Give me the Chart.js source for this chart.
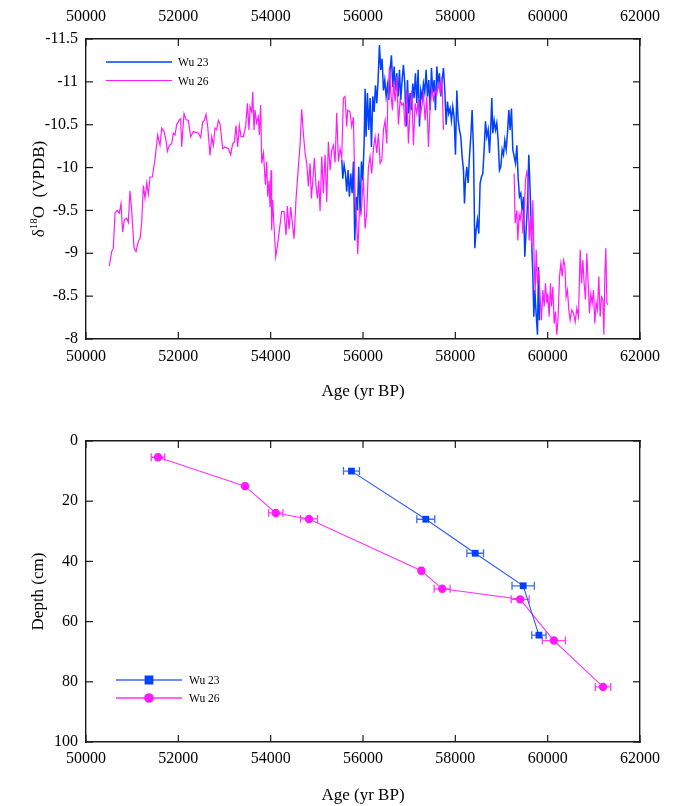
<!DOCTYPE html>
<html>
<head>
<meta charset="utf-8">
<script src="https://cdn.jsdelivr.net/npm/chart.js@4.4.0/dist/chart.umd.min.js"></script>
<style>
  html, body { margin: 0; padding: 0; background: #fff; }
  #wrap { width: 677px; height: 806px; }
  canvas { display: block; }
</style>
</head>
<body>
<div id="wrap">
  <canvas id="chart-isotope" width="677" height="415"></canvas>
  <canvas id="chart-depth" width="677" height="391"></canvas>
</div>
<script>
/* ---- tick labels ---- */
const ageTicks = [50000, 52000, 54000, 56000, 58000, 60000, 62000];
const d18OTicks = [-11.5, -11, -10.5, -10, -9.5, -9, -8.5, -8];
const depthTicks = [0, 20, 40, 60, 80, 100];

/* ---- Wu 23 isotope record (age yr BP, d18O) ---- */
const w23Age = [
  55540, 55562, 55591, 55620, 55648, 55677, 55706, 55735, 55764, 55793, 55822, 55851, 55880, 55908, 55937,
  55966, 55995, 56024, 56046, 56067, 56096, 56125, 56154, 56183, 56212, 56241, 56270, 56298, 56327, 56356,
  56385, 56414, 56443, 56472, 56501, 56530, 56558, 56587, 56616, 56645, 56674, 56703, 56732, 56761, 56790,
  56818, 56847, 56876, 56905, 56934, 56963, 56992, 57020, 57050, 57078, 57107, 57136, 57165, 57194, 57223,
  57252, 57281, 57309, 57338, 57367, 57396, 57425, 57454, 57483, 57512, 57541, 57570, 57598, 57627, 57656,
  57685, 57714, 57743, 57772, 57801, 57830, 57858, 57887, 57916, 57945, 57974, 58003, 58032, 58061, 58089,
  58118, 58147, 58176, 58198, 58220, 58248, 58277, 58306, 58335, 58364, 58393, 58422, 58450, 58479, 58508,
  58537, 58566, 58595, 58624, 58653, 58682, 58711, 58740, 58768, 58790, 58812, 58841, 58870, 58898, 58927,
  58956, 58985, 59014, 59043, 59072, 59101, 59129, 59158, 59187, 59216, 59245, 59274, 59303, 59332, 59360,
  59389, 59418, 59447, 59476, 59505, 59534, 59563, 59591, 59620, 59649, 59678, 59700, 59721, 59750, 59779,
  59801, 59822
];
const w23D18O = [
  -10.09, -9.87, -10.03, -9.93, -9.72, -9.97, -9.66, -9.93, -9.70, -10.07, -9.15, -9.66, -9.50, -10.01, -9.47,
  -10.07, -9.85, -10.28, -10.92, -10.36, -10.87, -10.44, -10.81, -10.24, -10.83, -10.65, -10.96, -10.75, -11.02, -11.43,
  -11.14, -11.27, -10.90, -11.02, -10.83, -10.96, -10.79, -11.14, -11.31, -10.94, -11.18, -10.90, -11.10, -10.83, -11.14,
  -10.79, -11.02, -11.20, -10.98, -10.48, -11.02, -10.63, -10.87, -10.67, -10.98, -10.81, -11.10, -10.75, -11.14, -10.48,
  -10.90, -10.81, -10.98, -10.88, -11.14, -10.83, -11.02, -10.67, -11.16, -10.87, -11.02, -10.67, -11.18, -10.98, -11.10,
  -10.83, -11.02, -11.16, -10.90, -10.50, -10.77, -10.63, -10.69, -10.55, -10.71, -10.59, -10.15, -10.90, -10.55, -10.44,
  -10.36, -10.13, -9.97, -9.58, -9.85, -10.01, -9.82, -10.13, -10.36, -10.67, -10.21, -9.06, -9.27, -9.39, -9.23,
  -9.82, -9.89, -9.93, -10.21, -10.54, -10.36, -10.44, -10.17, -10.48, -10.81, -10.40, -10.55, -10.44, -10.52, -10.32,
  -9.97, -10.01, -10.21, -10.15, -10.32, -10.21, -10.40, -10.67, -10.44, -10.69, -10.21, -10.13, -10.05, -10.26, -9.89,
  -9.66, -9.70, -9.50, -9.66, -8.96, -9.27, -9.58, -10.15, -9.74, -9.19, -8.77, -8.26, -8.57, -8.30, -8.05,
  -8.84, -8.22
];

/* ---- Wu 26 isotope record (null = hiatus) ---- */
const w26Age = [
  50505, 50556, 50592, 50628, 50679, 50722, 50758, 50794, 50830, 50881, 50917, 50953, 50989, 51040, 51083,
  51134, 51170, 51206, 51242, 51278, 51314, 51350, 51387, 51437, 51495, 51553, 51603, 51639, 51690, 51733,
  51762, 51805, 51856, 51892, 51928, 51964, 52015, 52051, 52073, 52123, 52166, 52217, 52268, 52325, 52383,
  52434, 52484, 52528, 52564, 52600, 52636, 52687, 52723, 52759, 52795, 52831, 52867, 52903, 52961, 53011,
  53084, 53134, 53177, 53214, 53250, 53286, 53322, 53358, 53409, 53459, 53495, 53531, 53553, 53589, 53611,
  53640, 53661, 53697, 53733, 53755, 53784, 53806, 53842, 53863, 53885, 53914, 53936, 53965, 53986, 54008,
  54022, 54044, 54073, 54109, 54145, 54189, 54239, 54290, 54333, 54362, 54398, 54434, 54470, 54506, 54550,
  54600, 54636, 54672, 54708, 54745, 54781, 54817, 54853, 54882, 54911, 54947, 54983, 55012, 55041, 55070,
  55106, 55142, 55178, 55214, 55250, 55287, 55323, 55359, 55395, 55431, 55467, 55503, 55539, 55575, 55611,
  55647, 55669, 55719, 55755, 55792, 55828, 55864, 55886, 55922, 55958, 56009, 56045, 56081, 56117, 56153,
  56189, 56226, 56262, 56298, 56335, 56371, 56407, 56443, 56479, 56515, 56537, 56573, 56602, 56638, 56660,
  56696, 56732, 56768, 56804, 56840, 56876, 56912, 56948, 56984, 57020, 57057, 57093, 57129, 57165, 57201,
  57237, 57273, 57309, 57346, 57382, 57418, 57454, 57490, 57526, 57562, 57598, 57635, 57671, 57707, 57743,
  58500,
  59274, 59295, 59332, 59353, 59382, 59404, 59440, 59462, 59491, 59519, 59548, 59570, 59599, 59628, 59657,
  59678, 59707, 59729, 59751, 59779, 59808, 59837, 59866, 59895, 59924, 59953, 59982, 60003, 60032, 60061,
  60083, 60112, 60141, 60169, 60198, 60227, 60256, 60285, 60314, 60343, 60372, 60400, 60429, 60458, 60487,
  60523, 60560, 60596, 60632, 60668, 60704, 60733, 60762, 60790, 60819, 60848, 60877, 60906, 60935, 60964,
  60993, 61021, 61050, 61079, 61108, 61137, 61166, 61195, 61217, 61238, 61260, 61282, 61303
];
const w26D18O = [
  -8.85, -9.02, -9.06, -9.47, -9.50, -9.47, -9.58, -9.25, -9.39, -9.41, -9.36, -9.73, -9.50, -9.06, -9.02,
  -9.14, -9.17, -9.35, -9.79, -9.64, -9.82, -9.69, -9.89, -9.89, -10.10, -10.38, -10.26, -10.46, -10.42, -10.32,
  -10.19, -10.26, -10.28, -10.40, -10.38, -10.50, -10.55, -10.57, -10.24, -10.63, -10.56, -10.55, -10.36, -10.42, -10.41,
  -10.40, -10.35, -10.53, -10.55, -10.62, -10.48, -10.14, -10.36, -10.26, -10.46, -10.44, -10.55, -10.51, -10.22, -10.24,
  -10.22, -10.15, -10.28, -10.30, -10.49, -10.24, -10.49, -10.36, -10.36, -10.48, -10.75, -10.44, -10.71, -10.65, -10.88,
  -10.44, -10.67, -10.52, -10.59, -10.38, -10.73, -10.05, -10.17, -10.01, -9.80, -10.07, -9.66, -9.85, -9.54, -9.97,
  -9.27, -9.62, -9.31, -8.96, -9.08, -9.27, -9.49, -9.49, -9.21, -9.55, -9.28, -9.54, -9.35, -9.17, -9.64,
  -10.01, -10.26, -10.68, -10.40, -10.17, -10.05, -9.78, -10.05, -9.64, -9.84, -10.11, -9.78, -9.64, -9.85, -9.49,
  -10.13, -9.70, -10.15, -9.60, -10.30, -9.97, -10.20, -10.26, -10.06, -10.64, -10.07, -10.22, -10.11, -10.81, -10.83,
  -10.48, -10.67, -10.65, -10.48, -10.59, -9.66, -9.35, -8.99, -9.50, -9.45, -9.89, -9.29, -9.47, -10.00, -10.13,
  -9.93, -10.22, -10.36, -10.17, -10.40, -10.05, -10.09, -10.44, -10.55, -10.28, -10.77, -11.18, -10.87, -10.67, -11.00,
  -10.77, -11.06, -10.50, -10.79, -10.73, -10.75, -10.48, -10.90, -10.28, -10.67, -10.90, -10.26, -10.75, -10.63, -10.81,
  -10.59, -10.71, -10.85, -10.55, -10.83, -10.24, -10.71, -10.92, -10.79, -10.90, -10.85, -10.98, -10.88, -11.06, -10.44,
  null,
  -9.93, -9.35, -9.50, -9.15, -9.45, -9.39, -9.52, -9.23, -9.43, -9.85, -9.95, -9.89, -9.15, -9.43, -9.08,
  -9.62, -8.92, -8.53, -9.04, -8.65, -8.80, -8.49, -8.22, -8.57, -8.38, -8.65, -8.42, -8.53, -8.26, -8.65,
  -8.38, -8.61, -8.18, -8.32, -8.05, -8.26, -8.73, -8.88, -8.73, -8.92, -8.86, -8.49, -8.57, -8.34, -8.22,
  -8.34, -8.30, -8.20, -8.36, -8.26, -9.04, -8.65, -8.92, -8.65, -8.46, -9.00, -8.65, -8.30, -8.53, -8.42,
  -8.57, -8.18, -8.42, -8.34, -8.73, -8.26, -8.49, -8.46, -8.05, -8.73, -9.06, -8.42, -8.40
];

/* ---- dating points: age, 2-sigma error, depth (cm) ---- */
const w23DateAge = [55750, 57360, 58430, 59470, 59810];
const w23DateErr = [173, 195, 180, 242, 155];
const w23Depth = [10, 26, 37.3, 48.1, 64.5];
const w26DateAge = [51560, 53445, 54110, 54830, 57265, 57715, 59405, 60135, 61200];
const w26DateErr = [148, 40, 155, 184, 40, 173, 195, 250, 166];
const w26Depth = [5.4, 15.0, 23.9, 25.9, 43.1, 49.1, 52.6, 66.3, 81.7];

const SERIF = '"Liberation Serif", "Times New Roman", serif';
const INK = '#1a1a1a';
const BLUE = '#0040ff';
const PINK = '#ff1aff';

function pairs(xs, ys) {
  return xs.map((x, i) => ({ x, y: ys[i] }));
}

// fixed-size linear axis, labels optional
function axis(position, min, max, tickValues, size, extra = {}) {
  const horizontal = position === 'top' || position === 'bottom';
  return {
    type: 'linear',
    position,
    min, max,
    reverse: !horizontal,
    afterBuildTicks: (s) => { s.ticks = tickValues.map(v => ({ value: v })); },
    afterFit: (s) => { if (horizontal) s.height = size; else s.width = size; },
    grid: { display: false, drawTicks: false },
    border: { display: true, color: INK, width: 1.4 },
    ticks: {
      display: extra.labels !== false,
      color: '#000',
      padding: extra.pad || 8,
      maxRotation: 0,
      autoSkip: false,
      font: { family: SERIF, size: 16 },
      callback: (v) => String(v)
    },
    title: extra.title || { display: false }
  };
}

// small tick marks pointing into the plot on all four sides
const innerTicks = {
  id: 'innerTicks',
  afterDraw(chart) {
    const { ctx, chartArea: a } = chart;
    ctx.save();
    ctx.strokeStyle = INK;
    ctx.lineWidth = 1.2;
    Object.values(chart.scales).forEach(s => {
      s.ticks.forEach(t => {
        const p = s.getPixelForValue(t.value);
        ctx.beginPath();
        if (s.position === 'bottom') { ctx.moveTo(p, a.bottom); ctx.lineTo(p, a.bottom - 7); }
        if (s.position === 'top') { ctx.moveTo(p, a.top); ctx.lineTo(p, a.top + 7); }
        if (s.position === 'left') { ctx.moveTo(a.left, p); ctx.lineTo(a.left + 7, p); }
        if (s.position === 'right') { ctx.moveTo(a.right, p); ctx.lineTo(a.right - 7, p); }
        ctx.stroke();
      });
    });
    ctx.restore();
  }
};

// legend drawn inside the plot frame
const innerLegend = {
  id: 'innerLegend',
  afterDraw(chart, args, o) {
    const ctx = chart.ctx;
    ctx.save();
    chart.data.datasets.forEach((ds, i) => {
      const y = o.y + i * o.gap;
      ctx.strokeStyle = o.lineColors ? o.lineColors[i] : ds.borderColor;
      ctx.lineWidth = o.lineWidths ? o.lineWidths[i] : ds.borderWidth;
      ctx.beginPath();
      ctx.moveTo(o.x0, y);
      ctx.lineTo(o.x1, y);
      ctx.stroke();
      if (o.markers) {
        ctx.fillStyle = ds.pointBackgroundColor;
        ctx.strokeStyle = ds.pointBorderColor;
        Chart.helpers.drawPoint(ctx, { pointStyle: ds.pointStyle, radius: ds.pointRadius, rotation: 0, borderWidth: 1 }, (o.x0 + o.x1) / 2, y);
      }
      ctx.fillStyle = '#000';
      ctx.font = `11.5px ${SERIF}`;
      ctx.textBaseline = 'middle';
      ctx.fillText(ds.label, o.textX, y + 1);
    });
    ctx.restore();
  }
};

// rotated y title with superscript
const isotopeTitle = {
  id: 'isotopeTitle',
  afterDraw(chart) {
    const { ctx, chartArea: a } = chart;
    const big = `17px ${SERIF}`;
    const small = `11px ${SERIF}`;
    const parts = [['\u03b4', big, 0], ['18', small, -7], ['O  (VPDB)', big, 0]];
    ctx.save();
    ctx.translate(38, (a.top + a.bottom) / 2);
    ctx.rotate(-Math.PI / 2);
    ctx.fillStyle = '#000';
    ctx.textBaseline = 'alphabetic';
    let w = 0;
    parts.forEach(p => { ctx.font = p[1]; w += ctx.measureText(p[0]).width; });
    let x = -w / 2;
    parts.forEach(p => {
      ctx.font = p[1];
      ctx.fillText(p[0], x, 6 + p[2]);
      x += ctx.measureText(p[0]).width;
    });
    ctx.restore();
  }
};

// horizontal age error bars with caps
const ageErrorBars = {
  id: 'ageErrorBars',
  beforeDatasetsDraw(chart, args, o) {
    const { ctx, scales: { x } } = chart;
    ctx.save();
    ctx.lineWidth = 1.3;
    chart.data.datasets.forEach((ds, i) => {
      const errs = o.errors[i];
      ctx.strokeStyle = o.colors[i];
      chart.getDatasetMeta(i).data.forEach((pt, j) => {
        const age = ds.data[j].x;
        const lo = x.getPixelForValue(age - errs[j]);
        const hi = x.getPixelForValue(age + errs[j]);
        ctx.beginPath();
        ctx.moveTo(lo, pt.y); ctx.lineTo(hi, pt.y);
        ctx.moveTo(lo, pt.y - 4); ctx.lineTo(lo, pt.y + 4);
        ctx.moveTo(hi, pt.y - 4); ctx.lineTo(hi, pt.y + 4);
        ctx.stroke();
      });
    });
    ctx.restore();
  }
};

const xTitle = (pad) => ({
  display: true, text: 'Age (yr BP)', color: '#000',
  font: { family: SERIF, size: 17 }, padding: { top: 0, bottom: pad }
});

/* ---- top panel: d18O records ---- */
new Chart(document.getElementById('chart-isotope'), {
  type: 'line',
  data: {
    datasets: [
      { label: 'Wu 23', data: pairs(w23Age, w23D18O), borderColor: BLUE, borderWidth: 1.5, pointRadius: 0, tension: 0, order: 2 },
      { label: 'Wu 26', data: pairs(w26Age, w26D18O), borderColor: PINK, borderWidth: 1.2, pointRadius: 0, tension: 0, spanGaps: false, order: 1 }
    ]
  },
  options: {
    responsive: false,
    animation: false,
    devicePixelRatio: 1,
    layout: { padding: 0 },
    scales: {
      x: axis('bottom', 50000, 62000, ageTicks, 415 - 339, { pad: 8, title: xTitle(13) }),
      x2: axis('top', 50000, 62000, ageTicks, 39, { pad: 13 }),
      y: axis('left', -11.5, -8, d18OTicks, 86, { pad: 8 }),
      y2: axis('right', -11.5, -8, d18OTicks, 37, { labels: false })
    },
    plugins: {
      legend: { display: false },
      tooltip: { enabled: false },
      innerLegend: { x0: 106, x1: 172, y: 62, gap: 18.5, textX: 178, lineWidths: [1.3, 1.1] }
    }
  },
  plugins: [innerTicks, innerLegend, isotopeTitle]
});

/* ---- bottom panel: age-depth models ---- */
new Chart(document.getElementById('chart-depth'), {
  type: 'line',
  data: {
    datasets: [
      {
        label: 'Wu 23', data: pairs(w23DateAge, w23Depth),
        borderColor: '#2a5bff', borderWidth: 1.1, tension: 0,
        pointStyle: 'rect', pointRadius: 4.8, pointBackgroundColor: BLUE, pointBorderColor: BLUE, pointBorderWidth: 0
      },
      {
        label: 'Wu 26', data: pairs(w26DateAge, w26Depth),
        borderColor: '#ff33ff', borderWidth: 1.1, tension: 0,
        pointStyle: 'circle', pointRadius: 4.2, pointBackgroundColor: PINK, pointBorderColor: PINK, pointBorderWidth: 0
      }
    ]
  },
  options: {
    responsive: false,
    animation: false,
    devicePixelRatio: 1,
    layout: { padding: 0 },
    scales: {
      x: axis('bottom', 50000, 62000, ageTicks, 391 - 327, { pad: 7, title: xTitle(0) }),
      x2: axis('top', 50000, 62000, ageTicks, 26, { labels: false }),
      y: axis('left', 0, 100, depthTicks, 86, {
        pad: 8,
        title: { display: true, text: 'Depth (cm)', color: '#000', font: { family: SERIF, size: 17 }, padding: { top: 28, bottom: 0 } }
      }),
      y2: axis('right', 0, 100, depthTicks, 37, { labels: false })
    },
    plugins: {
      legend: { display: false },
      tooltip: { enabled: false },
      innerLegend: { x0: 116, x1: 182, y: 265, gap: 18, textX: 189, markers: true, lineColors: ['#6f8dff', '#ff33ff'], lineWidths: [2, 1.3] },
      ageErrorBars: { errors: [w23DateErr, w26DateErr], colors: ['#3f6bff', '#ff40ff'] }
    }
  },
  plugins: [innerTicks, innerLegend, ageErrorBars]
});
</script>
</body>
</html>
